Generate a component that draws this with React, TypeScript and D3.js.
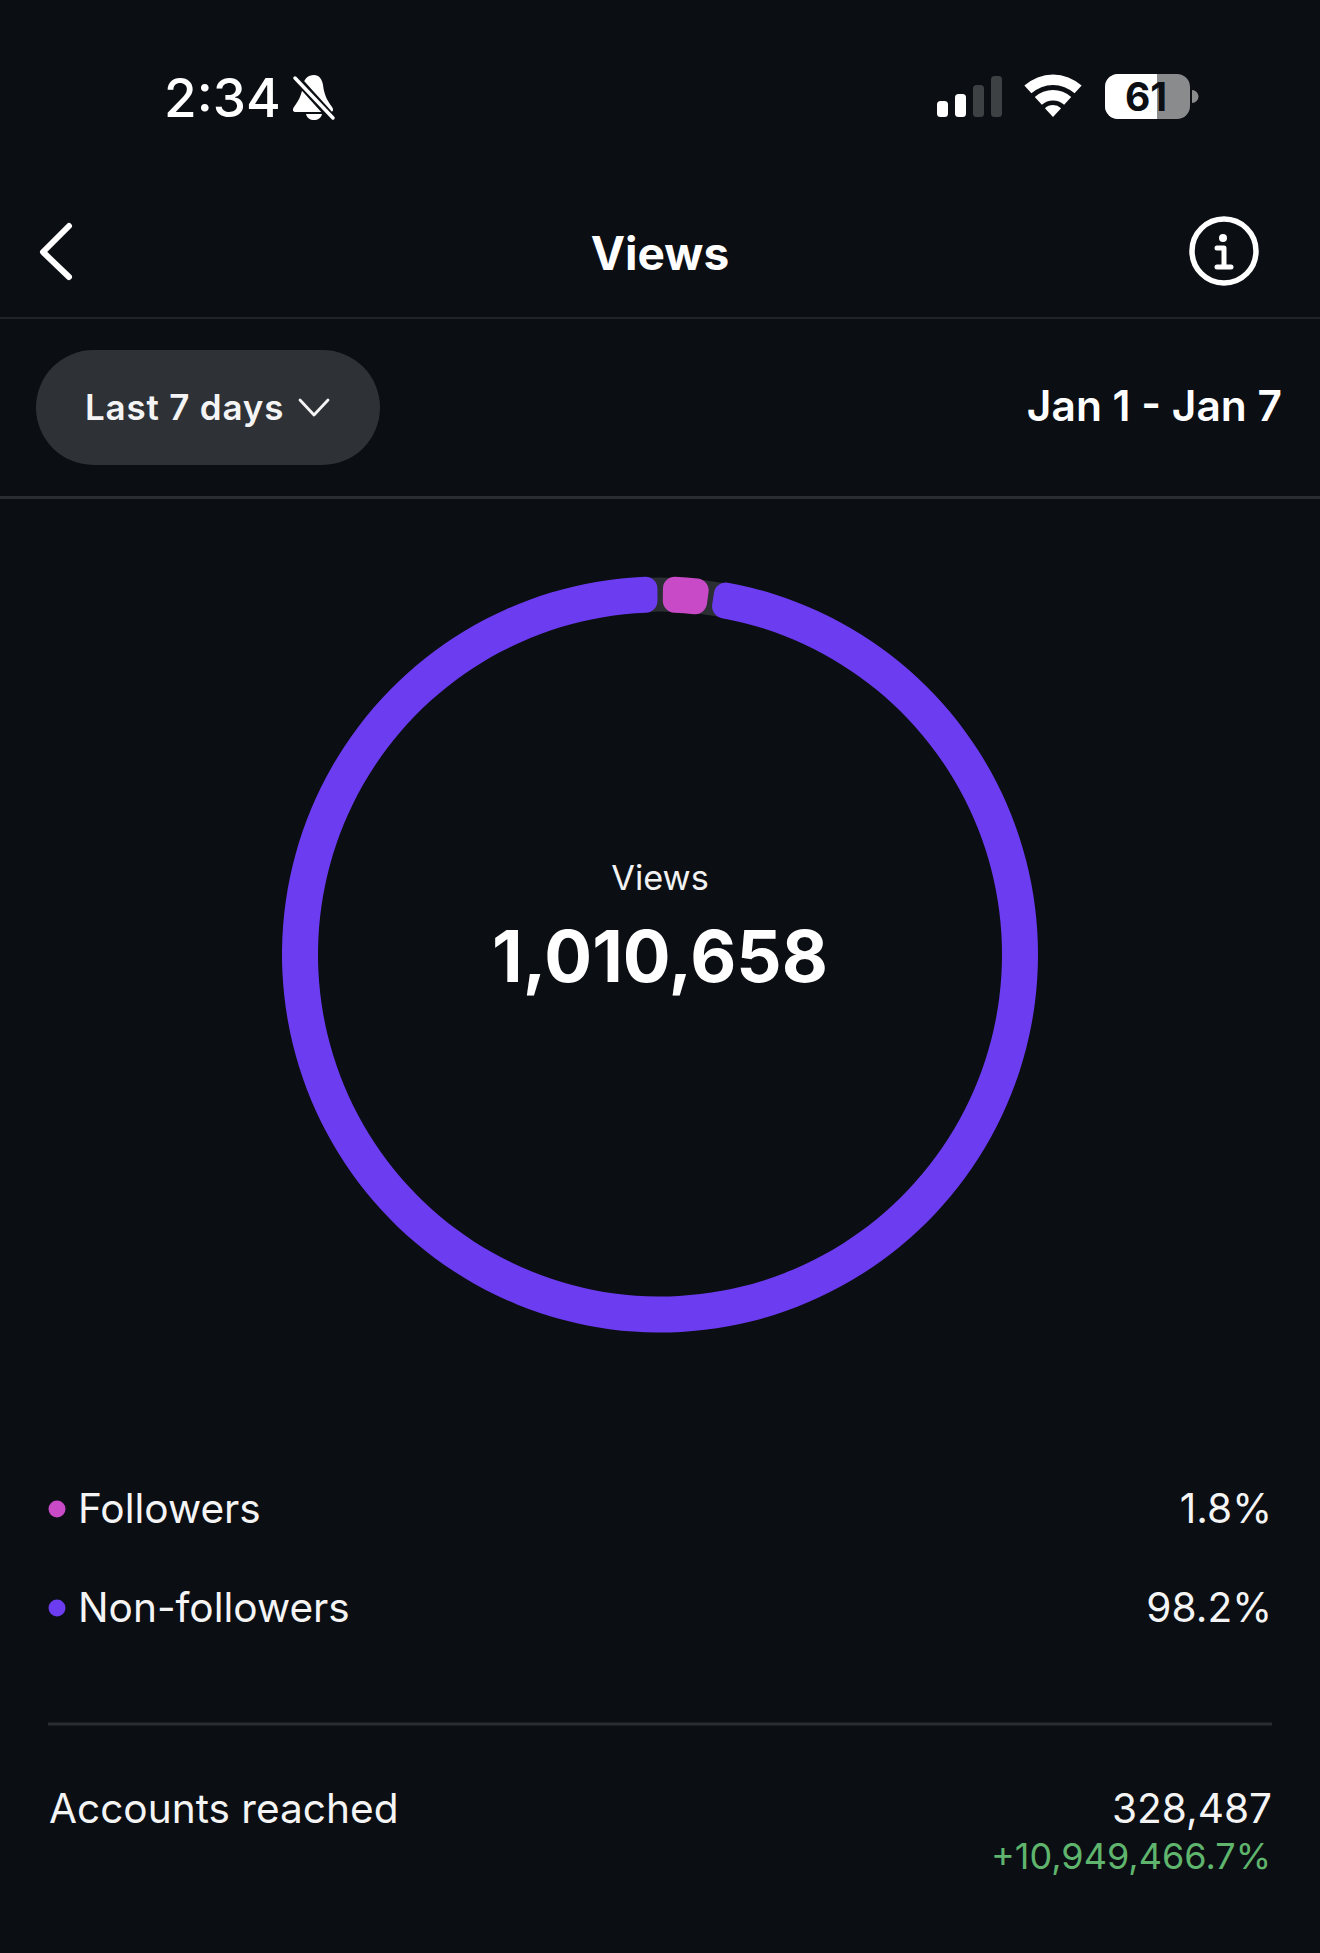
import React from "react";
import * as d3 from "d3";

const WIDTH = 1320;
const HEIGHT = 1953;
const BG = "#0b0e13";
const PURPLE = "#6c3cf0";
const PINK = "#c94ac7";
const TRACK = "#2b2e32";
const RULE = "#2a2d31";
const FONT = "Inter, 'Noto Sans', sans-serif";

const categories = ["Followers", "Non-followers"];
const shareValues = [1.8, 98.2];
const shareLabels = ["1.8%", "98.2%"];
const sliceColors = [PINK, PURPLE];
const totalViews = 1010658;
const reachedValue = 328487;
const reachedChange = "+10,949,466.7%";

const CX = 660;
const CY = 954.5;
const R_OUT = 378;
const R_IN = 342;
const START = 0.014;
const PINK_GROW = 0.006;
const PURPLE_INSET = 0.021;

export default function App() {
  const pieArcs = d3
    .pie<number>()
    .sort(null)
    .startAngle(START)
    .endAngle(START + Math.PI * 2)(shareValues);
  const arc = d3.arc<any>().innerRadius(R_IN).outerRadius(R_OUT).cornerRadius(12);
  const trackArc = d3.arc<any>().innerRadius(R_IN + 1).outerRadius(R_OUT - 1);
  const sliceD = pieArcs.map((a, i) => {
    const adj = i === 0 ? PINK_GROW : -PURPLE_INSET;
    return arc({ startAngle: a.startAngle - adj, endAngle: a.endAngle + adj }) as string;
  });
  const fmt = d3.format(",");

  const wifi = d3.arc<any>();
  const wifiBands = [
    [0, 12],
    [16.5, 27],
    [32, 42.5],
  ].map(([r0, r1]) =>
    wifi({ innerRadius: r0, outerRadius: r1, startAngle: -0.74, endAngle: 0.74, cornerRadius: 1 }) as string
  );

  const signalBars = [
    { x: 937, h: 16, c: "#ffffff" },
    { x: 955, h: 23, c: "#ffffff" },
    { x: 973, h: 32, c: "#3e4144" },
    { x: 991, h: 41, c: "#3e4144" },
  ];

  const legendY = [1509, 1608];

  return (
    <svg
      width={WIDTH}
      height={HEIGHT}
      viewBox={`0 0 ${WIDTH} ${HEIGHT}`}
      style={{ position: "absolute", left: 0, top: 0, display: "block" }}
      fontFamily={FONT}
    >
      <rect width={WIDTH} height={HEIGHT} fill={BG} />

      {/* status bar */}
      <text x={164} y={117} fontSize={53} fontWeight={500} fill="#fff">2:34</text>
      <g fill="#fff">
        <path d="M314 75c5 0 8 4 9 10 1 8 3 14 9 22 2 3 1 5-2 5h-34c-3 0-4-2-2-5 6-8 8-14 9-22 1-6 5-10 11-10z" />
        <path d="M306 114h16c-1 4-4 6-8 6s-7-2-8-6z" />
      </g>
      <path d="M295 77L333 119" stroke={BG} strokeWidth={8} />
      <path d="M295 78L333 118" stroke="#fff" strokeWidth={3.5} strokeLinecap="round" />

      {signalBars.map((b) => (
        <rect key={b.x} x={b.x} y={117 - b.h} width={11} height={b.h} rx={3.5} fill={b.c} />
      ))}
      <g transform="translate(1053,117)" fill="#fff">
        {wifiBands.map((d, i) => (
          <path key={i} d={d} />
        ))}
      </g>
      <clipPath id="batFill"><rect x={1105} y={74} width={52} height={45} /></clipPath>
      <rect x={1105} y={74} width={85} height={45} rx={13} fill="#8a8b8c" />
      <rect x={1105} y={74} width={85} height={45} rx={13} fill="#fff" clipPath="url(#batFill)" />
      <path d="M1192 90a6.5 6.5 0 0 1 0 13z" fill="#8a8b8c" />
      <text x={1146} y={111} textAnchor="middle" fontSize={39} fontWeight={700} fill={BG}>61</text>

      {/* nav */}
      <path d="M69 226L43 252L69 277" fill="none" stroke="#fff" strokeWidth={6} strokeLinecap="round" strokeLinejoin="round" />
      <text x={660} y={270} textAnchor="middle" fontSize={46} fontWeight={700} fill="#fff">Views</text>
      <circle cx={1224} cy={251} r={32} fill="none" stroke="#fff" strokeWidth={5.5} />
      <circle cx={1223} cy={238} r={4} fill="#fff" />
      <path d="M1217 248H1224V266M1217 267H1231" fill="none" stroke="#fff" strokeWidth={5} strokeLinecap="round" strokeLinejoin="round" />
      <line x1={0} x2={WIDTH} y1={318} y2={318} stroke={RULE} strokeWidth={1.5} />

      {/* range row */}
      <rect x={36} y={350} width={344} height={115} rx={57.5} fill="#2e3135" />
      <text x={85} y={420} fontSize={35} fontWeight={600} letterSpacing={0.8} fill="#f4f4f5">Last 7 days</text>
      <path d="M300 400L314 415L328 400" fill="none" stroke="#f4f4f5" strokeWidth={2.8} strokeLinecap="round" strokeLinejoin="round" />
      <text x={1282} y={421} textAnchor="end" fontSize={42.5} fontWeight={600} fill="#fff">Jan 1 - Jan 7</text>
      <line x1={0} x2={WIDTH} y1={497.5} y2={497.5} stroke={RULE} strokeWidth={3} />

      {/* donut */}
      <g transform={`translate(${CX},${CY})`}>
        <path d={trackArc({ startAngle: -0.1, endAngle: 0.24 }) as string} fill={TRACK} />
        {sliceD.map((d, i) => (
          <path key={categories[i]} d={d} fill={sliceColors[i]} />
        ))}
      </g>
      <text x={660} y={890} textAnchor="middle" fontSize={34.3} fill="#f2f2f3">Views</text>
      <text x={660} y={982} textAnchor="middle" fontSize={71} fontWeight={700} fill="#fff">{fmt(totalViews)}</text>

      {/* legend */}
      {categories.map((c, i) => (
        <g key={c}>
          <circle cx={57} cy={legendY[i]} r={8.5} fill={sliceColors[i]} />
          <text x={78} y={legendY[i] + 14} fontSize={40.6} fill="#f4f4f5">{c}</text>
          <text x={1272} y={legendY[i] + 14} textAnchor="end" fontSize={40.6} fill="#f4f4f5">{shareLabels[i]}</text>
        </g>
      ))}
      <line x1={48} x2={1272} y1={1724} y2={1724} stroke={RULE} strokeWidth={3} />
      <text x={49} y={1823} fontSize={40.6} fill="#f4f4f5">Accounts reached</text>
      <text x={1272} y={1823} textAnchor="end" fontSize={40.6} fill="#f4f4f5">{fmt(reachedValue)}</text>
      <text x={1271} y={1869} textAnchor="end" fontSize={36} fill="#5fb56d">{reachedChange}</text>
    </svg>
  );
}
